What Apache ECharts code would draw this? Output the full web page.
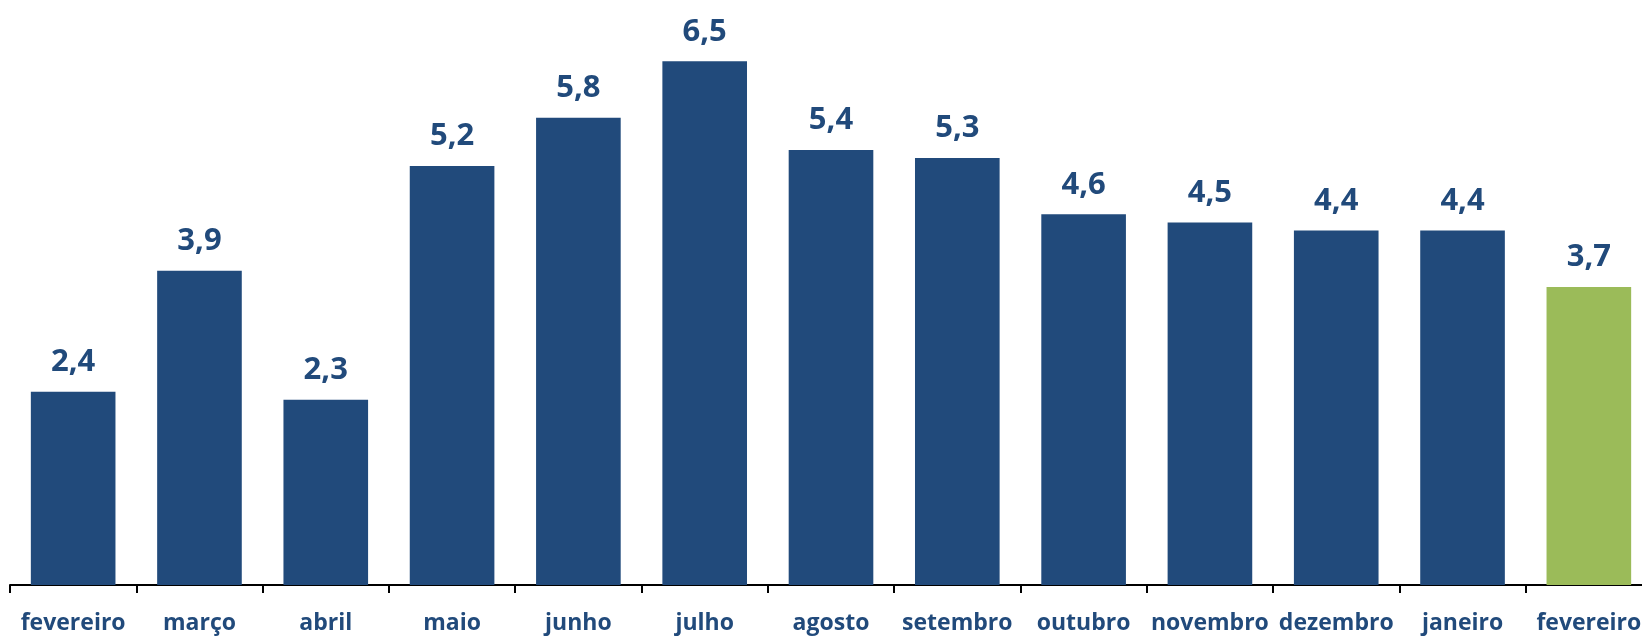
<!DOCTYPE html>
<html>
<head>
<meta charset="utf-8">
<script src="https://cdn.jsdelivr.net/npm/echarts@6/dist/echarts.min.js"></script>
<style>
  html, body { margin: 0; padding: 0; background: #fff; overflow: hidden; }
  /* o gráfico original é cortado à direita */
  #chart { width: 1652px; height: 636px; }
</style>
</head>
<body>
<div id="chart"></div>
<script>
// meses
const months = ['fevereiro', 'março', 'abril', 'maio', 'junho', 'julho', 'agosto',
  'setembro', 'outubro', 'novembro', 'dezembro', 'janeiro', 'fevereiro']
// valores (%)
const values = [2.4, 3.9, 2.3, 5.2, 5.8, 6.5, 5.4, 5.3, 4.6, 4.5, 4.4, 4.4, 3.7]
// o último mês fica destacado
const highlightIndex = 12

const blue = '#214A7B'
const green = '#9BBB59'

const chart = echarts.init(document.getElementById('chart'))
chart.setOption({
  animation: false,
  grid: { left: 10, right: 0, top: 21, bottom: 51, containLabel: false },
  xAxis: {
    type: 'category',
    data: months,
    axisLine: { show: true, lineStyle: { color: '#000', width: 2 } },
    axisTick: { show: true, length: 8, lineStyle: { color: '#000', width: 2 } },
    axisLabel: {
      interval: 0,
      margin: 27,
      color: blue,
      fontFamily: 'Open Sans',
      fontWeight: 'bold',
      fontSize: 23
    }
  },
  yAxis: {
    type: 'value',
    min: 0,
    max: 7,
    show: false,
    splitLine: { show: false }
  },
  series: [{
    type: 'bar',
    barWidth: '67%',
    data: values.map((v, i) => ({
      value: v,
      itemStyle: { color: i === highlightIndex ? green : blue }
    })),
    label: {
      show: true,
      position: 'top',
      distance: 14,
      color: blue,
      fontFamily: 'Open Sans',
      fontWeight: 'bold',
      fontSize: 31,
      formatter: p => String(p.value).replace('.', ',')
    }
  }]
})
</script>
</body>
</html>
